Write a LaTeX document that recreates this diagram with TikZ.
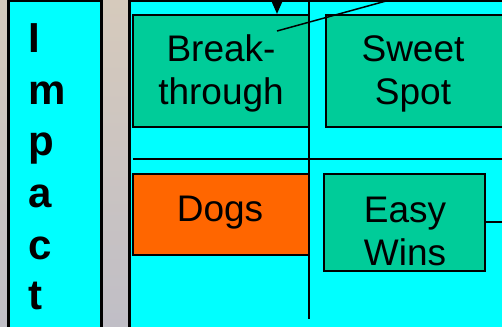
\documentclass[tikz,border=0pt]{standalone}
\usepackage{fontspec}
\setmainfont{Liberation Sans}
\usetikzlibrary{arrows.meta}
\definecolor{bgtop}{RGB}{214,202,188}
\definecolor{bgbot}{RGB}{192,190,198}
\definecolor{panelcyan}{RGB}{0,255,255}
\definecolor{boxgreen}{RGB}{0,204,153}
\definecolor{boxorange}{RGB}{255,102,0}
\tikzset{
  panel/.style={draw=black, line width=2.5pt, fill=panelcyan, rectangle, inner sep=0pt},
  quad/.style={draw=black, line width=2.2pt, rectangle, inner sep=0pt},
  lbl/.style={font=\fontsize{37}{42}\selectfont, inner sep=0pt, anchor=base},
  letter/.style={font=\fontsize{42}{51}\selectfont\bfseries, inner sep=0pt, anchor=base west},
  rule/.style={draw=black, line width=2.2pt}
}
\begin{document}
\begin{tikzpicture}[x=1pt,y=-1pt]
\useasboundingbox (0,0) rectangle (502,326);
\clip (0,0) rectangle (502,326);
\shade[top color=bgtop, bottom color=bgbot] (0,0) rectangle (502,326);
% panels
\node[panel, minimum width=93pt, minimum height=340pt, anchor=north west] (impactpanel) at (7,0) {};
\node[panel, minimum width=380pt, minimum height=340pt, anchor=north west] (mainpanel) at (128,0) {};
% Impact letters
\foreach \ch/\yy [count=\i] in {I/53, m/104, p/155, a/207, c/259, t/309}
  \node[letter] (l\i) at (28,\yy) {\ch};
% grid lines
\coordinate (hl) at (133,159);
\coordinate (hr) at (505,159);
\coordinate (vt) at (309,-3);
\coordinate (vb) at (309,319);
\draw[rule] (hl) -- (hr);
\draw[rule] (vt) -- (vb);
% boxes
\node[quad, fill=boxgreen, minimum width=176pt, minimum height=112pt] (bt) at (221,71) {};
\node[quad, fill=boxgreen, minimum width=180pt, minimum height=112pt, anchor=west] (ss) at (325,71) {};
\node[quad, fill=boxorange, minimum width=176pt, minimum height=81pt] (dogs) at (221,214.5) {};
\node[quad, fill=boxgreen, minimum width=161pt, minimum height=97pt] (ew) at (404.5,222.5) {};
% labels
\node[lbl] (bt1) at (221,62) {Break-};
\node[lbl] (bt2) at (221,104) {through};
\node[lbl] (ss1) at (413,62) {Sweet};
\node[lbl] (ss2) at (413,104) {Spot};
\node[lbl] (dg1) at (220,221) {Dogs};
\node[lbl] (ew1) at (405,222) {Easy};
\node[lbl] (ew2) at (405,265) {Wins};
% connectors
\coordinate (lnin) at (277,31);
\coordinate (lnout) at (397,-2);
\draw[black, line width=1.5pt] (lnin) -- (lnout);
\coordinate (arrtop) at (277,-2);
\draw[black, line width=1.5pt, -{Triangle[length=13pt,width=11pt]}] (arrtop) -- (arrtop |- bt.north);
\coordinate (ewout) at (505,222);
\draw[rule] (ew.east |- ewout) -- (ewout);
\end{tikzpicture}
\end{document}
